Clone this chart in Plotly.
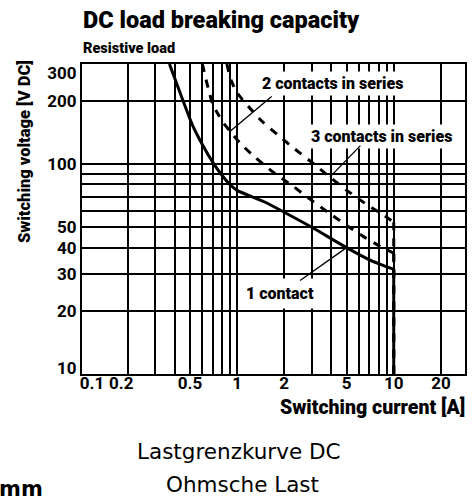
import plotly.graph_objects as go
import math

# ---- data ----
i_one = [0.37, 0.45, 0.52, 0.6, 0.7, 0.8, 0.9, 1.0, 1.5, 2.0, 3.0, 5.0, 7.0, 10.0, 10.0]
v_one = [300, 202, 153, 124, 102, 88.5, 80, 75, 66, 59, 50, 40, 35, 31.5, 10]

i_two = [0.6, 0.654, 0.703, 0.757, 0.803, 0.903, 1.045, 1.3, 1.7, 2.27, 2.92, 3.8,
         4.87, 6.34, 8.13, 10.0, 10.0]
v_two = [300, 230, 191, 173, 160, 143.6, 125.9, 108, 91.6, 78.6, 68.1, 59,
         51.8, 45.4, 40.7, 37.7, 10]

i_three = [0.86, 0.916, 0.985, 1.076, 1.175, 1.443, 1.825, 2.34, 3.05, 3.91, 5.09,
           6.53, 8.77, 10.0, 10.0]
v_three = [300, 251, 223, 204, 189, 160, 137.4, 117.9, 101, 86.7, 74.4,
           65.2, 56.6, 52.9, 10]

x_tick_vals = [0.1, 0.2, 0.5, 1, 2, 5, 10, 20]
x_tick_text = ["0.1", "0.2", "0.5", "1", "2", "5", "10", "20"]
y_tick_vals = [10, 20, 30, 40, 50, 100, 200, 300]
y_tick_text = ["10", "20", "30", "40", "50", "100", "200", "300"]

x_grid = [0.2, 0.3, 0.4, 0.5, 0.6, 0.7, 0.8, 0.9, 1, 2, 3, 4, 5, 6, 7, 8, 9, 10, 20]
y_grid = [20, 30, 40, 50, 60, 70, 80, 90, 100, 200]

# ---- styling ----
COND = "Roboto, Liberation Sans, sans-serif"
REG = "DejaVu Sans, Liberation Sans, sans-serif"

# label nudges (edge labels are shifted inside the frame in the reference)
x_label_pos = {0.1: 0.1184, 0.2: 0.1824}
y_label_pos = {300: 272.8, 10: 10.62}
x_lab = [x_label_pos.get(v, v) for v in x_tick_vals]
y_lab = [y_label_pos.get(v, v) for v in y_tick_vals]

fig = go.Figure()


def add_curve(xs, ys, dash, name):
    line = dict(color="black", width=3, dash=dash)
    # smooth breaking curve
    fig.add_trace(go.Scatter(x=xs[:-1], y=ys[:-1], mode="lines",
                             line=dict(line, shape="spline", smoothing=0.6),
                             name=name, showlegend=False, hoverinfo="skip"))
    # vertical limit at the maximum current
    fig.add_trace(go.Scatter(x=xs[-2:], y=ys[-2:], mode="lines", line=line,
                             name=name, showlegend=False, hoverinfo="skip"))


add_curve(i_one, v_one, "solid", "1 contact")
add_curve(i_two, v_two, "8px,8px", "2 contacts in series")
add_curve(i_three, v_three, "8px,8px", "3 contacts in series")

L, R, T, B = 82, 10, 64, 123
W, H = 475, 497
pw, ph = W - L - R, H - T - B


def xp(px):
    return (px - L) / pw


def yp(py):
    return (T + ph - py) / ph


tfont = dict(family=COND, size=17, color="black", weight="bold")
fig.update_layout(
    template="none",
    width=W, height=H,
    margin=dict(l=L, r=R, t=T, b=B, pad=0),
    paper_bgcolor="white", plot_bgcolor="white",
    xaxis=dict(type="log", range=[-0.99, 1.455], automargin=False,
               tickmode="array", tickvals=x_lab, ticktext=x_tick_text,
               tickangle=0, ticklabelstandoff=-7,
               showgrid=False, zeroline=False, ticks="",
               showline=True, linecolor="black", linewidth=2, mirror=True,
               tickfont=tfont,
               minor=dict(tickmode="array", tickvals=x_grid, showgrid=True,
                          gridcolor="black", gridwidth=2, ticks="")),
    yaxis=dict(type="log", range=[1, math.log10(300)], automargin=False,
               tickmode="array", tickvals=y_lab, ticktext=y_tick_text,
               showgrid=False, zeroline=False, ticks="",
               showline=True, linecolor="black", linewidth=2, mirror=True,
               tickfont=tfont,
               minor=dict(tickmode="array", tickvals=y_grid, showgrid=True,
                          gridcolor="black", gridwidth=2, ticks="")),
)

ann = []
# titles
ann.append(dict(text="DC load breaking capacity", x=xp(81), y=yp(20),
                xref="paper", yref="paper", xanchor="left", yanchor="middle",
                showarrow=False,
                font=dict(family=COND, size=23.5, color="black", weight=900)))
ann.append(dict(text="Resistive load", x=xp(81), y=yp(48),
                xref="paper", yref="paper", xanchor="left", yanchor="middle",
                showarrow=False,
                font=dict(family=COND, size=14.5, color="black", weight=900)))
ann.append(dict(text="Switching voltage [V DC]", x=xp(24), y=yp(152),
                xref="paper", yref="paper", xanchor="center", yanchor="middle",
                textangle=-90, showarrow=False,
                font=dict(family=COND, size=16.5, color="black", weight=900)))
ann.append(dict(text="Switching current [A]", x=xp(467), y=yp(407),
                xref="paper", yref="paper", xanchor="right", yanchor="middle",
                showarrow=False,
                font=dict(family=COND, size=19.5, color="black", weight=900)))
ann.append(dict(text="Lastgrenzkurve DC", x=xp(239), y=yp(452),
                xref="paper", yref="paper", xanchor="center", yanchor="middle",
                showarrow=False, font=dict(family=REG, size=21.5, color="black")))
ann.append(dict(text="Ohmsche Last", x=xp(242.5), y=yp(484),
                xref="paper", yref="paper", xanchor="center", yanchor="middle",
                showarrow=False, font=dict(family=REG, size=21.5, color="black")))
ann.append(dict(text="mm", x=xp(45), y=yp(489),
                xref="paper", yref="paper", xanchor="right", yanchor="middle",
                showarrow=False,
                font=dict(family=REG, size=21, color="black", weight="bold")))

# in-plot labels with white boxes
lab_font = dict(family=COND, size=16, color="black", weight=900)
ann.append(dict(text="2 contacts in series", x=xp(332), y=yp(83),
                xref="paper", yref="paper", xanchor="center", yanchor="middle",
                showarrow=False, bgcolor="white", borderpad=2, font=lab_font))
ann.append(dict(text="3 contacts in series", x=xp(381), y=yp(136),
                xref="paper", yref="paper", xanchor="center", yanchor="middle",
                showarrow=False, bgcolor="white", borderpad=2, font=lab_font))
ann.append(dict(text="1 contact", x=xp(280), y=yp(293),
                xref="paper", yref="paper", xanchor="center", yanchor="middle",
                showarrow=False, bgcolor="white", borderpad=5, font=lab_font))


# leader lines (pointing at points of the curves)
def leader(xs, ys, idx, ax, ay):
    return dict(text="", x=math.log10(xs[idx]), y=math.log10(ys[idx]),
                xref="x", yref="y", showarrow=True, arrowhead=0,
                arrowwidth=1.3, arrowcolor="black", ax=ax, ay=ay,
                standoff=0, startstandoff=0, font=dict(size=1))


ann.append(leader(i_two, v_two, 5, 43, -36))
ann.append(leader(i_three, v_three, 9, 32, -33))
ann.append(leader(i_one, v_one, 11, -48, 34))

fig.update_layout(annotations=ann)
fig.write_html("out.html",
               config={"displayModeBar": False, "staticPlot": True},
               post_script="document.body.style.margin='0px';"
                           "document.body.style.overflow='hidden';")
